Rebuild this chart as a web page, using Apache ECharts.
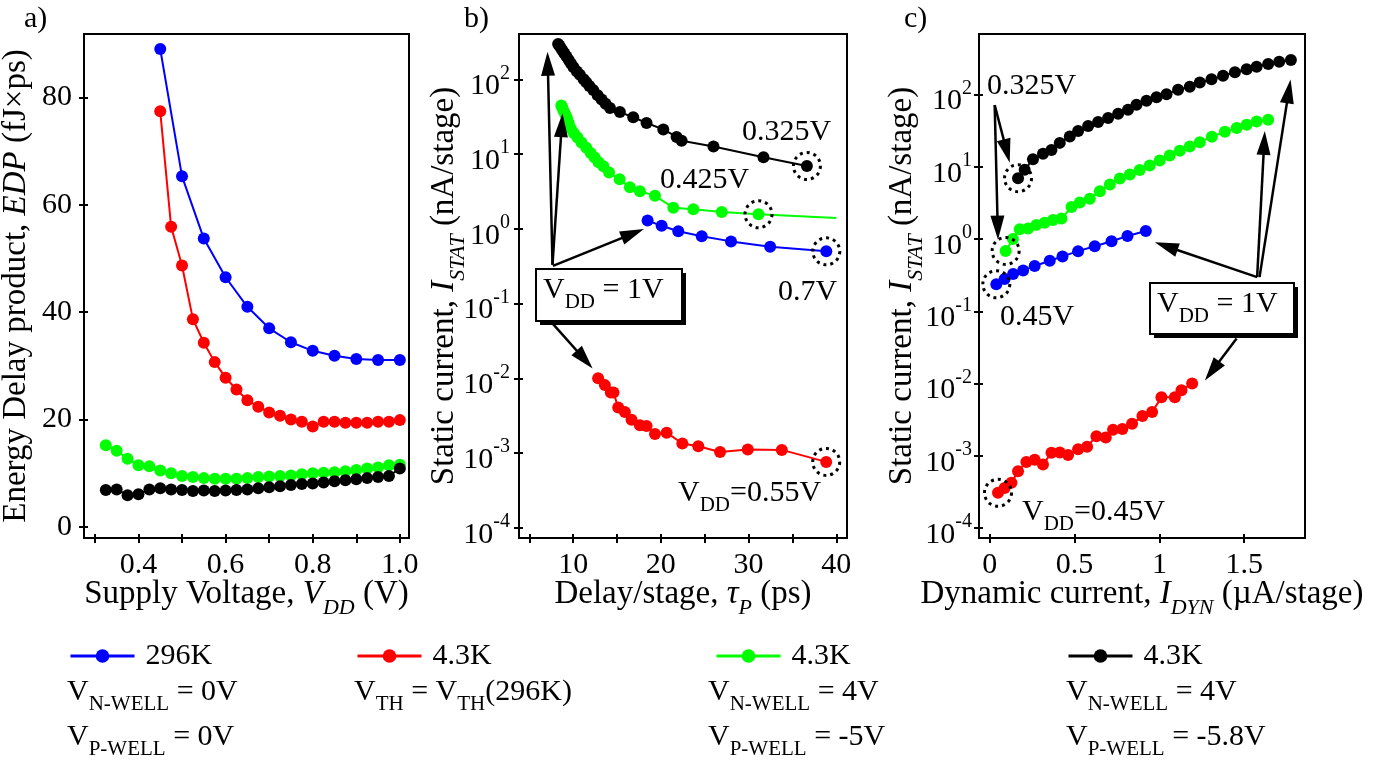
<!DOCTYPE html>
<html><head><meta charset="utf-8">
<script src="https://cdn.jsdelivr.net/npm/echarts@6/dist/echarts.min.js"></script>
<style>html,body{margin:0;padding:0;background:#fff}#c{width:1396px;height:764px}</style>
</head><body><div id="c"></div>
<script>
// ---------------- DATA ----------------
// Panel a: supply voltage (V) and EDP (fJ x ps)
const vddBlue  = [0.45,0.5,0.55,0.6,0.65,0.7,0.75,0.8,0.85,0.9,0.95,1.0];
const edpBlue  = [89.0,65.3,53.7,46.5,41.0,37.0,34.4,32.8,31.9,31.3,31.1,31.1];
const vddRed   = [0.45,0.475,0.5,0.525,0.55,0.575,0.6,0.625,0.65,0.675,0.7,0.725,0.75,0.775,0.8,0.825,0.85,0.875,0.9,0.925,0.95,0.975,1.0];
const edpRed   = [77.4,55.9,48.7,38.7,34.3,30.7,27.8,25.6,23.6,22.4,21.3,20.7,20.0,19.6,18.7,19.6,19.6,19.4,19.4,19.4,19.6,19.6,19.9];
const vddGB    = [0.325,0.35,0.375,0.4,0.425,0.45,0.475,0.5,0.525,0.55,0.575,0.6,0.625,0.65,0.675,0.7,0.725,0.75,0.775,0.8,0.825,0.85,0.875,0.9,0.925,0.95,0.975,1.0];
const edpGreen = [15.2,14.2,12.7,11.5,11.3,10.5,10.0,9.5,9.3,9.1,9.0,9.0,9.0,9.1,9.3,9.4,9.5,9.6,9.8,10.0,10.1,10.2,10.4,10.6,10.9,11.1,11.5,11.6];
const edpBlack = [6.9,7.0,5.9,6.1,7.0,7.2,7.0,6.9,6.7,6.8,6.7,6.8,6.9,7.0,7.2,7.4,7.6,7.8,8.0,8.1,8.3,8.5,8.7,8.9,9.1,9.3,9.5,10.9];

// Static current (nA/stage), same VDD order as above
const istatBlue  = [0.237,0.279,0.328,0.368,0.423,0.50,0.575,0.68,0.795,0.93,1.10,1.29];
const istatRed   = [3.08e-4,3.6e-4,4.23e-4,6.12e-4,8.2e-4,8.85e-4,7.6e-4,1.1e-3,1.11e-3,1.03e-3,1.23e-3,1.34e-3,1.87e-3,1.8e-3,2.3e-3,2.36e-3,2.78e-3,3.55e-3,4.05e-3,6.45e-3,6.45e-3,8.1e-3,1.0e-2];
const istatGreen = [0.684,1.0,1.37,1.40,1.57,1.68,1.83,1.92,2.77,3.2,3.6,4.6,5.69,6.89,7.82,9.0,10.4,12.2,14.3,16.7,19.0,21.9,26.1,30.5,34.3,38.1,42.4,44.7];
const istatBlack = [6.95,9.1,12.7,15.1,17.0,21.4,26.2,31.2,36.6,41.6,47.2,54,61.4,72,81.7,91.8,101,116,128,146,162,182,203,223,242,264,284,299];

// Delay per stage (ps); null = outside the plotted range
const delayBlue  = [null,null,null,null,null,38.86,32.46,28.0,24.66,21.99,20.09,18.49];
const delayRed   = [null,null,null,null,null,null,38.85,33.79,29.91,26.75,24.27,22.45,20.66,19.33,18.37,17.61,16.66,15.90,15.14,14.6,14.3,13.62,12.85];
const delayGreen = [null,null,null,null,31.13,26.94,23.70,21.42,19.33,17.61,16.47,15.3,14.1,13.45,12.9,12.45,12.0,11.5,10.95,10.5,10.1,9.75,9.5,9.3,9.1,8.9,8.75,8.65];
const delayBlack = [36.65,31.7,26.0,22.37,21.8,20.28,18.37,16.85,15.33,14.2,13.7,13.25,12.8,12.3,11.85,11.5,11.2,10.77,10.43,10.05,9.77,9.5,9.24,9.01,8.8,8.6,8.42,8.29];
const greenLineEndB = [40, 1.40];   // green curve in b continues to the 40 ps edge

// Dynamic current (uA/stage)
const idynBlue  = [0.039,0.088,0.138,0.197,0.265,0.354,0.429,0.521,0.619,0.718,0.812,0.92];
const idynRed   = [0.049,0.088,0.128,0.167,0.216,0.265,0.314,0.364,0.413,0.462,0.521,0.574,0.629,0.684,0.727,0.782,0.839,0.9,0.957,1.012,1.091,1.13,1.193];
const idynGreen = [0.094,0.137,0.177,0.226,0.275,0.324,0.373,0.423,0.482,0.531,0.590,0.649,0.708,0.767,0.826,0.884,0.943,1.002,1.061,1.120,1.179,1.238,1.309,1.386,1.455,1.514,1.573,1.641];
const idynBlack = [0.167,0.206,0.255,0.314,0.364,0.413,0.472,0.521,0.580,0.639,0.698,0.757,0.815,0.865,0.924,0.983,1.042,1.110,1.179,1.238,1.307,1.375,1.445,1.514,1.573,1.641,1.706,1.775];

// Tick values / labels
const aXTicks  = [0.3,0.4,0.5,0.6,0.7,0.8,0.9,1.0];
const aXLabels = [0.4,0.6,0.8,1.0];
const aYTicks  = [0,20,40,60,80];
const bXTicks  = [5,10,15,20,25,30,35,40];
const bXLabels = [10,20,30,40];
const logTicks = [1e-4,1e-3,1e-2,1e-1,1,10,100];
const cXTicks  = [0,0.5,1,1.5];

// Highlighted (dotted circle) points: index into the arrays
const circB = {black:0, green:4, blue:5, red:6};
const circC = {black:0, green:0, blue:0, red:0};

// Arrow annotations [tailX, tailY, tipX, tipY] in data units
const arrowsB = [[7.65,0.331,7.08,235],[7.65,0.331,8.79,35.4],[7.7,0.32,18.07,0.993],[7.72,0.0531,12.22,0.01355]];
const arrowsC = [[0.0295,71.3,0.118,11.4],[0.0295,71.3,0.049,0.98],[1.576,0.297,0.973,0.90],[1.576,0.297,1.621,31.3],[1.59,0.297,1.773,161],[1.455,0.0422,1.268,0.011]];

// ---------------- CHART ----------------
const F = "'Liberation Serif','Times New Roman',serif";
const COL = {blue:'#0000ff', red:'#ff0000', green:'#00ff00', black:'#000000'};
const NAMES = {blue:'s296', red:'s43a', green:'s43b', black:'s43c'};
const LEG = {s296:'296K', s43a:'4.3K', s43b:'4.3K', s43c:'4.3K'};

function pairs(xs, ys){ const o=[]; xs.forEach((x,i)=>{ if(x!=null && ys[i]!=null) o.push([x, ys[i]]); }); return o; }

const nameRich = {
  n:{fontSize:33,fontFamily:F,color:'#000',lineHeight:37,verticalAlign:'top'},
  i:{fontSize:33,fontFamily:F,color:'#000',fontStyle:'italic',lineHeight:37,verticalAlign:'top'},
  sb:{fontSize:22,fontFamily:F,color:'#000',fontStyle:'italic',lineHeight:22,padding:[19,0,0,0],verticalAlign:'top'}
};
const supRich = {
  b:{fontSize:30,fontFamily:F,color:'#000',lineHeight:32,padding:[8,0,0,0],verticalAlign:'top'},
  s:{fontSize:20,fontFamily:F,color:'#000',lineHeight:20,verticalAlign:'top'}
};
function logFmt(v){ const e=Math.round(Math.log10(v)); return '{b|10}{s|'+e+'}'; }

function mkAxis(dir, grid, type, min, max, ticks, labels, opts){
  const main = {
    type, gridIndex:grid, min, max, position: dir==='x'?'bottom':'left',
    axisLine:{show:true,onZero:false,lineStyle:{color:'#000',width:2}},
    axisTick:{show:true,inside:false,length:5,lineStyle:{color:'#000',width:2},customValues:ticks},
    axisLabel:Object.assign({customValues:labels,fontSize:30,fontFamily:F,color:'#000',margin:12}, opts.label||{}),
    splitLine:{show:false}, minorTick:{show:false},
    name:opts.name, nameLocation:'middle', nameGap:opts.gap, nameRotate: dir==='y'?90:0,
    nameTextStyle:{rich:nameRich}, nameMoveOverlap:false
  };
  if(type==='log') main.logBase=10;
  const inner = {
    type, gridIndex:grid, min, max, position: dir==='x'?'bottom':'left',
    axisLine:{show:false,onZero:false},
    axisTick:{show:true,inside:true,length:4,lineStyle:{color:'#000',width:2},customValues:ticks},
    axisLabel:{show:false}, splitLine:{show:false}
  };
  if(type==='log') inner.logBase=10;
  return [main, inner];
}

const xAxis = [].concat(
  mkAxis('x',0,'value',0.275,1.021,aXTicks,aXLabels,{name:'{n|Supply Voltage, }{i|V}{sb|DD}{n| (V)}',gap:40,label:{formatter:v=>v.toFixed(1)}}),
  mkAxis('x',1,'value',3.83,41.22,bXTicks,bXLabels,{name:'{n|Delay/stage, }{i|τ}{sb|P}{n| (ps)}',gap:40}),
  mkAxis('x',2,'value',-0.063,1.858,cXTicks,cXTicks,{name:'{n|Dynamic current, }{i|I}{sb|DYN}{n| (µA/stage)}',gap:40,label:{formatter:v=>String(v)}})
);
const yAxis = [].concat(
  mkAxis('y',0,'value',-2.05,91.8,aYTicks,aYTicks,{name:'{n|Energy Delay product, }{i|EDP}{n| (fJ×ps)}',gap:47}),
  mkAxis('y',1,'log',7.28e-5,406,logTicks,logTicks,{name:'{n|Static current, }{i|I}{sb|STAT}{n| (nA/stage)}',gap:54,label:{formatter:logFmt,rich:supRich,margin:9}}),
  mkAxis('y',2,'log',7.3e-5,687,logTicks,logTicks,{name:'{n|Static current, }{i|I}{sb|STAT}{n| (nA/stage)}',gap:56,label:{formatter:logFmt,rich:supRich,margin:7}})
);

function lineSeries(key, axisIdx, data, extra){
  return Object.assign({
    id:key+axisIdx, name:NAMES[key], type:'line', xAxisIndex:axisIdx*2, yAxisIndex:axisIdx*2, data,
    symbol:'circle', symbolSize:12, showSymbol:true, showAllSymbol:true,
    lineStyle:{color:COL[key],width:2}, itemStyle:{color:COL[key]},
    emphasis:{disabled:true}, silent:true, clip:true
  }, extra||{});
}
function circ(x,y){ return {
  symbol:'circle', symbolSize:27, silent:true, label:{show:false},
  itemStyle:{color:'rgba(0,0,0,0)',borderColor:'#000',borderWidth:3,borderType:[3,4]},
  data:[{coord:[x,y]}]
};}
const ARROW = 'path://M0,0 L7,24 L-7,24 Z M-12,24 L-12,24 M12,24 L12,24';
const ARROW_HALF = 12;
function arrows(list){ return {
  silent:true, symbol:['none',ARROW], symbolSize:24,
  label:{show:false}, emphasis:{disabled:true},
  lineStyle:{color:'#000',width:2.5,type:'solid'},
  itemStyle:{color:'#000'},
  data:list.map(a=>[{coord:[a[0],a[1]]},{coord:[a[2],a[3]]}])
};}

const series = [
  // panel a
  lineSeries('green',0,pairs(vddGB,edpGreen)),
  lineSeries('black',0,pairs(vddGB,edpBlack)),
  lineSeries('red',0,pairs(vddRed,edpRed)),
  lineSeries('blue',0,pairs(vddBlue,edpBlue)),
  // panel b
  lineSeries('green',1,[{value:greenLineEndB,symbol:'none'}].concat(pairs(delayGreen,istatGreen)),
    {markPoint:circ(delayGreen[circB.green],istatGreen[circB.green])}),
  lineSeries('blue',1,pairs(delayBlue,istatBlue),
    {markPoint:circ(delayBlue[circB.blue],istatBlue[circB.blue])}),
  lineSeries('red',1,pairs(delayRed,istatRed),
    {markPoint:circ(delayRed[circB.red],istatRed[circB.red])}),
  lineSeries('black',1,pairs(delayBlack,istatBlack),
    {markPoint:circ(delayBlack[circB.black],istatBlack[circB.black]), markLine:arrows(arrowsB)}),
  // panel c
  lineSeries('green',2,pairs(idynGreen,istatGreen),
    {markPoint:circ(idynGreen[circC.green],istatGreen[circC.green])}),
  lineSeries('blue',2,pairs(idynBlue,istatBlue),
    {markPoint:circ(idynBlue[circC.blue],istatBlue[circC.blue])}),
  lineSeries('red',2,pairs(idynRed,istatRed),
    {markPoint:circ(idynRed[circC.red],istatRed[circC.red])}),
  lineSeries('black',2,pairs(idynBlack,istatBlack),
    {markPoint:circ(idynBlack[circC.black],istatBlack[circC.black]), markLine:arrows(arrowsC)})
];

function legend(key,left){ return {
  data:[NAMES[key]], left, top:641, orient:'horizontal', padding:0, itemGap:0,
  itemWidth:64, itemHeight:17, selectedMode:false,
  lineStyle:{width:3},
  formatter:n=>LEG[n],
  textStyle:{fontSize:30,fontFamily:F,color:'#000',padding:[0,0,0,6]}
};}

const gRich = {
  m:{fontSize:30,fontFamily:F,fill:'#000',lineHeight:34,verticalAlign:'top'},
  sb:{fontSize:21,fontFamily:F,fill:'#000',lineHeight:21,padding:[17,0,0,0],verticalAlign:'top'}
};
function gtext(left, top, text){
  return {type:'text', left, top, silent:true, z:100,
    style:{text, rich:gRich, font:'30px '+F, fill:'#000'}};
}
function box(x,y,w,h){
  return [
    {type:'rect', silent:true, z:88, shape:{x:x+4,y:y+4,width:w,height:h}, style:{fill:'#000'}},
    {type:'rect', silent:true, z:90, shape:{x,y,width:w,height:h}, style:{fill:'#fff',stroke:'#000',lineWidth:2}}
  ];
}

const graphic = [].concat(
  [gtext(24,4,'{m|a)}'), gtext(464,4,'{m|b)}'), gtext(904,4,'{m|c)}')],
  // panel b labels
  [gtext(742,117,'{m|0.325V}'), gtext(660,165,'{m|0.425V}'), gtext(778,277,'{m|0.7V}'),
   gtext(678,478,'{m|V}{sb|DD}{m|=0.55V}')],
  box(536,269,146,52), [gtext(543,275,'{m|V}{sb|DD}{m| = 1V}')],
  // panel c labels
  [gtext(987,71,'{m|0.325V}'), gtext(1000,302,'{m|0.45V}'),
   gtext(1022,497,'{m|V}{sb|DD}{m|=0.45V}')],
  box(1150,283,144,51), [gtext(1157,289,'{m|V}{sb|DD}{m| = 1V}')],
  // legend sub-texts
  [gtext(67,677,'{m|V}{sb|N-WELL}{m| = 0V}'), gtext(67,722,'{m|V}{sb|P-WELL}{m| = 0V}'),
   gtext(354,677,'{m|V}{sb|TH}{m| = V}{sb|TH}{m|(296K)}'),
   gtext(708,677,'{m|V}{sb|N-WELL}{m| = 4V}'), gtext(708,722,'{m|V}{sb|P-WELL}{m| = -5V}'),
   gtext(1066,677,'{m|V}{sb|N-WELL}{m| = 4V}'), gtext(1066,722,'{m|V}{sb|P-WELL}{m| = -5.8V}')]
);

const gridBase = {show:true,borderColor:'#000',borderWidth:2,backgroundColor:'rgba(0,0,0,0)',containLabel:false,outerBoundsMode:'none'};
const option = {
  animation:false,
  backgroundColor:'#fff',
  grid:[
    Object.assign({left:84,top:34,width:325,height:504},gridBase),
    Object.assign({left:519,top:34,width:328,height:504},gridBase),
    Object.assign({left:979,top:34,width:326,height:504},gridBase)
  ],
  xAxis, yAxis, series,
  legend:[legend('blue',69),legend('red',356),legend('green',715),legend('black',1067)],
  graphic
};
const chart = echarts.init(document.getElementById('c'));
chart.setOption(option);

// shorten each arrow so that the arrow-head tip lands on the given tip coordinate
function fixArrows(seriesId, axisIdx, list){
  const finder = {xAxisIndex:axisIdx*2, yAxisIndex:axisIdx*2};
  const data = list.map(a=>{
    const p0 = chart.convertToPixel(finder,[a[0],a[1]]);
    const p1 = chart.convertToPixel(finder,[a[2],a[3]]);
    const dx=p1[0]-p0[0], dy=p1[1]-p0[1], L=Math.hypot(dx,dy)||1;
    const e=[p1[0]-dx/L*ARROW_HALF, p1[1]-dy/L*ARROW_HALF];
    const d = chart.convertFromPixel(finder, e);
    return [{coord:[a[0],a[1]]},{coord:d}];
  });
  chart.setOption({series:[{id:seriesId, markLine:{data}}]});
}
fixArrows('black1',1,arrowsB);
fixArrows('black2',2,arrowsC);
</script>
</body></html>
